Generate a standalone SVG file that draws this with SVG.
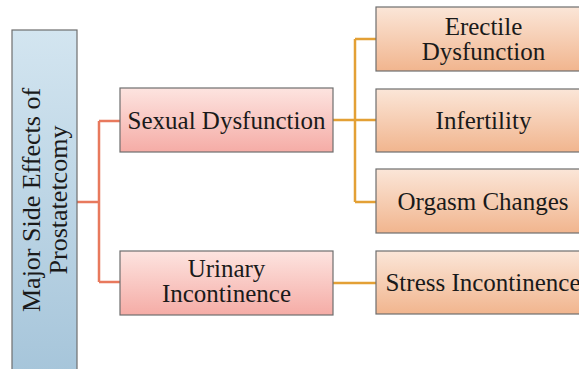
<svg xmlns="http://www.w3.org/2000/svg" width="579" height="369" viewBox="0 0 579 369">
<defs>
<linearGradient id="gBlue" x1="0" y1="0" x2="0" y2="1"><stop offset="0" stop-color="#d3e5f0"/><stop offset="1" stop-color="#a6c5da"/></linearGradient>
<linearGradient id="gPink" x1="0" y1="0" x2="0" y2="1"><stop offset="0" stop-color="#fde4e0"/><stop offset="1" stop-color="#f5aca6"/></linearGradient>
<linearGradient id="gPeach" x1="0" y1="0" x2="0" y2="1"><stop offset="0" stop-color="#fbe6d8"/><stop offset="1" stop-color="#f1b58e"/></linearGradient>
<style>
.box{stroke:#6e6e6e;stroke-width:1.2}
text{font-family:"Liberation Serif","Times New Roman",serif;fill:#1a1a1a;text-anchor:middle}
.lbl{font-size:25px}
.tv{font-size:26px}
.c1{fill:none;stroke:#e8795d;stroke-width:2.5}
.c2{fill:none;stroke:#e3a035;stroke-width:2.5}
</style>
</defs>
<rect width="579" height="369" fill="#ffffff"/>
<g id="connectors">
<path class="c1" d="M77 202 H99 M99 121 V282 M99 121 H120 M99 282 H120"/>
<path class="c2" d="M333 120 H376 M355 39 V202 M355 39 H376 M355 202 H376 M333 283 H376"/>
</g>
<g id="root">
<rect class="box" x="12" y="30" width="65" height="345" fill="url(#gBlue)"/>
<text class="tv" transform="translate(0 200) rotate(-90)"><tspan x="0" y="40">Major Side Effects of</tspan><tspan x="0" y="67">Prostatetcomy</tspan></text>
</g>
<g id="sexual">
<rect class="box" x="120" y="88" width="213" height="64" fill="url(#gPink)"/>
<text class="lbl" x="226.5" y="128.5">Sexual Dysfunction</text>
</g>
<g id="urinary">
<rect class="box" x="120" y="251" width="213" height="64" fill="url(#gPink)"/>
<text class="lbl" x="226.5" y="277">Urinary</text>
<text class="lbl" x="226.5" y="302">Incontinence</text>
</g>
<g id="erectile">
<rect class="box" x="376" y="7" width="215" height="64" fill="url(#gPeach)"/>
<text class="lbl" x="483.5" y="34.5">Erectile</text>
<text class="lbl" x="483.5" y="60">Dysfunction</text>
</g>
<g id="infertility">
<rect class="box" x="376" y="89" width="215" height="63" fill="url(#gPeach)"/>
<text class="lbl" x="483.5" y="128.5">Infertility</text>
</g>
<g id="orgasm">
<rect class="box" x="376" y="169" width="215" height="64" fill="url(#gPeach)"/>
<text class="lbl" x="483" y="209.5">Orgasm Changes</text>
</g>
<g id="stress">
<rect class="box" x="376" y="251" width="215" height="63" fill="url(#gPeach)"/>
<text class="lbl" x="483" y="290.5">Stress Incontinence</text>
</g>
</svg>
